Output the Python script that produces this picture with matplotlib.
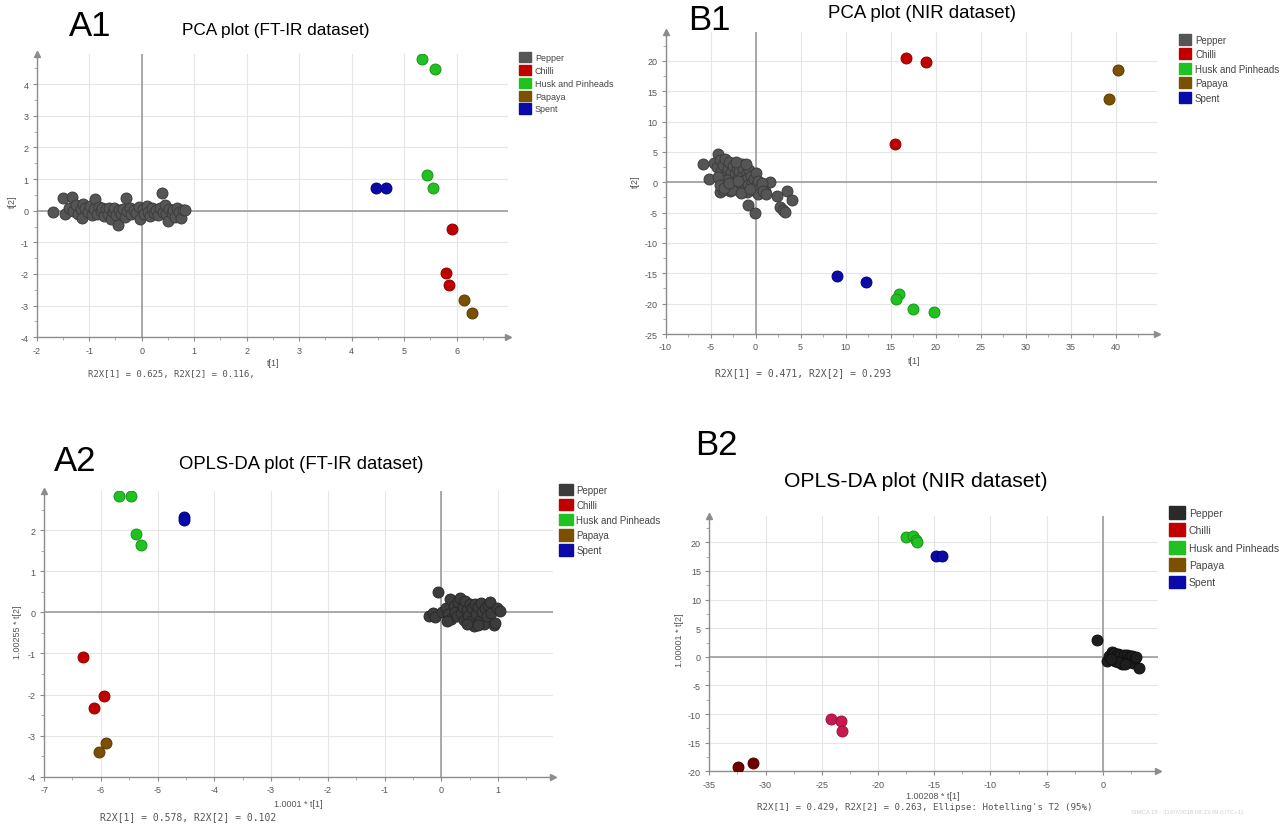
import matplotlib
matplotlib.use("Agg")
import matplotlib.pyplot as plt
from matplotlib.patches import Patch
from matplotlib.ticker import MultipleLocator, AutoMinorLocator

plt.rcParams["axes.unicode_minus"] = False

W, H = 1287, 829

groups = ["Pepper", "Chilli", "Husk and Pinheads", "Papaya", "Spent"]

# ---- A1 : PCA, FT-IR ----
a1_pepper_x = [-1.68, -1.49, -1.33, -1.46, -1.38, -1.30, -1.25, -1.22, -1.15, -1.11, -1.14, -1.08,
               -1.02, -0.98, -0.95, -0.89, -0.90, -0.85, -0.82, -0.78, -0.75, -0.72, -0.68, -0.65,
               -0.62, -0.58, -0.55, -0.52, -0.48, -0.46, -0.44, -0.40, -0.36, -0.32, -0.29, -0.27,
               -0.22, -0.20, -0.15, -0.10, -0.05, -0.03, 0.02, 0.05, 0.10, 0.12, 0.16, 0.20,
               0.24, 0.28, 0.32, 0.35, 0.38, 0.40, 0.44, 0.47, 0.51, 0.53, 0.57, 0.60,
               0.64, 0.68, 0.72, 0.75, 0.78, 0.82]
a1_pepper_y = [-0.04, 0.40, 0.42, -0.09, 0.08, -0.02, 0.18, -0.12, 0.05, 0.22, -0.23, 0.10,
               -0.05, 0.15, -0.15, 0.38, 0.05, -0.10, 0.12, -0.02, 0.08, -0.18, 0.05, -0.12,
               0.10, -0.25, -0.05, 0.08, -0.15, -0.46, 0.02, -0.10, 0.05, -0.20, 0.40, -0.02,
               0.10, -0.12, 0.02, -0.08, 0.12, -0.25, 0.05, -0.10, 0.15, -0.05, -0.18, 0.08,
               -0.08, 0.02, -0.15, 0.10, 0.57, -0.05, 0.18, -0.12, -0.34, 0.05, -0.08, 0.02,
               -0.20, 0.08, -0.05, -0.22, 0.02, 0.03]
a1_chilli_x = [5.92, 5.80, 5.86]
a1_chilli_y = [-0.58, -1.97, -2.35]
a1_husk_x = [5.34, 5.59, 5.44, 5.55]
a1_husk_y = [4.79, 4.47, 1.13, 0.71]
a1_papaya_x = [6.14, 6.29]
a1_papaya_y = [-2.81, -3.23]
a1_spent_x = [4.46, 4.65]
a1_spent_y = [0.73, 0.73]

# ---- B1 : PCA, NIR ----
b1_pepper_x = [-5.88, -5.14, -4.15, -0.82, -0.08, 1.59, 2.33, 3.44, 3.99, 2.69, 3.06, 3.25,
               1.03, -3.96, -2.85, -1.55, -4.6, -4.3, -4.0, -3.8, -3.6, -3.4, -3.3, -3.1,
               -3.0, -2.8, -2.7, -2.5, -2.4, -2.3, -2.1, -2.0, -1.9, -1.8, -1.7, -1.5,
               -1.4, -1.3, -1.2, -1.0, -0.9, -0.8, -0.7, -0.5, -0.4, -0.3, -0.2, 0.0,
               0.1, 0.3, 0.5, 0.7, -3.6, -3.2, -2.6, -4.2, -1.0, 0.3, -2.2, -1.1,
               -3.9, -3.5, -2.9, -2.0, -1.6, -0.6, 0.8, 1.2]
b1_pepper_y = [2.98, 0.51, 4.63, -3.77, -5.09, 0.07, -2.23, -1.41, -2.89, -4.15, -4.55, -4.87,
               -1.41, -1.58, -1.41, 2.98, 3.2, 2.5, 3.6, 1.8, 2.9, 3.9, 1.2, 2.2,
               3.3, 0.6, 1.7, 2.7, 0.0, 1.3, 2.2, -0.8, 0.7, 1.8, -0.3, 1.1,
               2.4, 0.2, -1.0, 1.5, 0.5, -0.5, 2.0, 1.0, -0.2, -1.3, 0.6, 1.6,
               -0.6, 0.2, -1.0, -0.1, -1.2, 0.3, -1.2, 0.9, -1.6, -1.9, 3.4, 3.0,
               -0.4, -0.9, -0.2, 0.2, -1.8, -1.1, -1.5, -1.9]
b1_chilli_x = [16.71, 18.86, 15.48]
b1_chilli_y = [20.44, 19.73, 6.28]
b1_husk_x = [15.89, 15.62, 17.49, 19.82]
b1_husk_y = [-18.47, -19.24, -20.94, -21.33]
b1_papaya_x = [40.23, 39.22]
b1_papaya_y = [18.52, 13.69]
b1_spent_x = [9.09, 12.28]
b1_spent_y = [-15.46, -16.50]

# ---- A2 : OPLS-DA, FT-IR ----
a2_pepper_x = [-0.05, -0.22, -0.15, -0.11, 0.02, 0.08, 0.12, 0.16, 0.18, 0.22, 0.25, 0.28,
               0.30, 0.33, 0.35, 0.38, 0.40, 0.42, 0.45, 0.48, 0.50, 0.52, 0.55, 0.57,
               0.60, 0.62, 0.65, 0.68, 0.70, 0.72, 0.75, 0.78, 0.80, 0.83, 0.86, 0.88,
               0.93, 0.95, 0.98, 1.04, 0.10, 0.45, 0.65]
a2_pepper_y = [0.50, -0.08, -0.02, -0.12, 0.02, 0.10, -0.05, 0.32, -0.17, 0.15, 0.02, -0.10,
               0.25, 0.34, -0.02, 0.12, -0.18, 0.28, 0.05, -0.08, 0.20, -0.22, 0.10, -0.33,
               0.20, -0.05, 0.12, -0.18, 0.22, 0.00, -0.28, 0.10, -0.10, 0.18, 0.24, -0.02,
               -0.31, -0.25, 0.10, 0.04, -0.20, -0.28, -0.30]
a2_chilli_x = [-6.32, -5.94, -6.12]
a2_chilli_y = [-1.08, -2.03, -2.32]
a2_husk_x = [-5.68, -5.47, -5.38, -5.30]
a2_husk_y = [2.84, 2.84, 1.90, 1.64]
a2_papaya_x = [-5.91, -6.03]
a2_papaya_y = [-3.18, -3.40]
a2_spent_x = [-4.54, -4.53]
a2_spent_y = [2.32, 2.24]

# ---- B2 : OPLS-DA, NIR ----
b2_pepper_x = [-0.55, 0.34, 0.55, 0.78, 0.9, 1.0, 1.08, 1.2, 1.37, 1.45, 1.55, 1.67, 1.75, 1.85,
               1.95, 2.11, 2.2, 2.26, 2.4, 2.5, 2.6, 2.7, 2.85, 2.95, 3.21, 1.3, 0.7, 2.0]
b2_pepper_y = [2.99, -0.68, 0.2, 0.79, -0.2, 0.6, -0.68, 0.1, 0.49, -0.5, 0.3, -1.26, -0.2, 0.4,
               -0.8, 0.31, -0.4, -0.96, 0.1, -0.6, 0.2, -1.0, -0.26, 0.05, -2.01, -0.9, -0.3, -1.2]
b2_group1_x = [-24.14, -23.33, -23.19]
b2_group1_y = [-10.86, -11.15, -13.01]
b2_group2_x = [-32.43, -31.07]
b2_group2_y = [-19.30, -18.54]
b2_husk_x = [-17.47, -16.88, -16.66, -16.51]
b2_husk_y = [20.87, 21.05, 20.47, 20.0]
b2_spent_x = [-14.82, -14.27]
b2_spent_y = [17.55, 17.55]

legend_colors = ["#555555", "#c00000", "#22c122", "#7b5000", "#0a0aa8"]
legend_colors_b2 = ["#2a2a2a", "#c00000", "#22c122", "#7b5000", "#0a0aa8"]

fig = plt.figure(figsize=(W / 100, H / 100), dpi=100)


def box(left, top, right, bottom):
    return [left / W, 1 - bottom / H, (right - left) / W, (bottom - top) / H]


def ftext(px, py, s, **kw):
    fig.text(px / W, 1 - py / H, s, **kw)


def style(ax, xlim, ylim, sx, sy):
    ax.set_xlim(*xlim)
    ax.set_ylim(*ylim)
    ax.xaxis.set_major_locator(MultipleLocator(sx))
    ax.yaxis.set_major_locator(MultipleLocator(sy))
    ax.xaxis.set_minor_locator(AutoMinorLocator(2))
    ax.yaxis.set_minor_locator(AutoMinorLocator(2))
    for s in ("top", "right"):
        ax.spines[s].set_visible(False)
    for s in ("left", "bottom"):
        ax.spines[s].set_color("#8c8c8c")
        ax.spines[s].set_linewidth(1.0)
    ax.tick_params(which="major", length=3, width=0.8, color="#8c8c8c", pad=3,
                   labelsize=6.5, labelcolor="#555555")
    ax.tick_params(which="minor", length=2, width=0.6, color="#a0a0a0")
    for lab in ax.get_xticklabels() + ax.get_yticklabels():
        lab.set_family("Liberation Sans")
    ax.grid(which="major", color="#e6e6e6", lw=0.8, zorder=0)
    ax.set_axisbelow(True)
    ax.axhline(0, color="#9c9c9c", lw=1.2, zorder=1)
    ax.axvline(0, color="#9c9c9c", lw=1.2, zorder=1)
    ax.plot(1, 0, ">", color="#8c8c8c", ms=5, transform=ax.transAxes, clip_on=False)
    ax.plot(0, 1, "^", color="#8c8c8c", ms=5, transform=ax.transAxes, clip_on=False)


def dots(ax, x, y, color, edge):
    ax.scatter(x, y, s=62, c=color, edgecolors=edge, linewidths=0.7, zorder=3)


def legend(ax, left, top, colors, fs, hh, ls):
    handles = [Patch(facecolor=c, edgecolor=c) for c in colors]
    leg = ax.legend(handles, groups, loc="upper left", bbox_to_anchor=(left / W, 1 - top / H),
                    bbox_transform=fig.transFigure, frameon=False,
                    handlelength=hh, handleheight=hh, handletextpad=0.4, labelspacing=ls,
                    borderpad=0, borderaxespad=0, prop={"family": "Liberation Sans", "size": fs})
    for t in leg.get_texts():
        t.set_color("#444444")


# A1
ax1 = fig.add_axes(box(36.7, 55, 508, 338.3))
style(ax1, (-2, 6.98), (-4, 4.95), 1, 1)
dots(ax1, a1_pepper_x, a1_pepper_y, "#555555", "#3c3c3c")
dots(ax1, a1_chilli_x, a1_chilli_y, "#c00000", "#8a0000")
dots(ax1, a1_husk_x, a1_husk_y, "#22c122", "#179417")
dots(ax1, a1_papaya_x, a1_papaya_y, "#7b5000", "#573800")
dots(ax1, a1_spent_x, a1_spent_y, "#0a0aa8", "#000075")
legend(ax1, 519, 53, legend_colors, 6.5, 1.35, 0.3)

# B1
ax2 = fig.add_axes(box(665.5, 33.3, 1156.5, 335))
style(ax2, (-10, 44.5), (-25, 24.7), 5, 5)
dots(ax2, b1_pepper_x, b1_pepper_y, "#555555", "#3c3c3c")
dots(ax2, b1_chilli_x, b1_chilli_y, "#c00000", "#8a0000")
dots(ax2, b1_husk_x, b1_husk_y, "#22c122", "#179417")
dots(ax2, b1_papaya_x, b1_papaya_y, "#7b5000", "#573800")
dots(ax2, b1_spent_x, b1_spent_y, "#0a0aa8", "#000075")
legend(ax2, 1178.5, 35, legend_colors, 7, 1.3, 0.4)

# A2
ax3 = fig.add_axes(box(44.1, 491.7, 553, 777.7))
style(ax3, (-7, 1.97), (-4, 2.96), 1, 1)
dots(ax3, a2_pepper_x, a2_pepper_y, "#3c3c3c", "#2a2a2a")
dots(ax3, a2_chilli_x, a2_chilli_y, "#c00000", "#8a0000")
dots(ax3, a2_husk_x, a2_husk_y, "#22c122", "#179417")
dots(ax3, a2_papaya_x, a2_papaya_y, "#7b5000", "#573800")
dots(ax3, a2_spent_x, a2_spent_y, "#0a0aa8", "#000075")
legend(ax3, 559, 485, ["#3c3c3c"] + legend_colors[1:], 7, 1.4, 0.4)

# B2
ax4 = fig.add_axes(box(709.3, 516.7, 1157.7, 772.3))
style(ax4, (-35, 4.87), (-20, 24.66), 5, 5)
dots(ax4, b2_pepper_x, b2_pepper_y, "#1e1e1e", "#101010")
dots(ax4, b2_group1_x, b2_group1_y, "#c8184f", "#9a0f3a")
dots(ax4, b2_group2_x, b2_group2_y, "#6e0000", "#4a0000")
dots(ax4, b2_husk_x, b2_husk_y, "#22c122", "#179417")
dots(ax4, b2_spent_x, b2_spent_y, "#0a0aa8", "#000075")
legend(ax4, 1169, 507, legend_colors_b2, 7.5, 1.5, 0.45)

# panel letters and titles
for px, py, s in [(90, 27, "A1"), (709, 20, "B1"), (75, 462, "A2"), (716, 446, "B2")]:
    ftext(px, py, s, fontsize=25, family="Liberation Sans", ha="center", va="center")
ftext(276, 31, "PCA plot (FT-IR dataset)", fontsize=12.4, family="Liberation Sans",
      ha="center", va="center")
ftext(922, 13, "PCA plot (NIR dataset)", fontsize=13.4, family="Liberation Sans",
      ha="center", va="center")
ftext(301, 465, "OPLS-DA plot (FT-IR dataset)", fontsize=13.3, family="Liberation Sans",
      ha="center", va="center")
ftext(916, 482, "OPLS-DA plot (NIR dataset)", fontsize=15.2, family="Liberation Sans",
      ha="center", va="center")

# axis labels
lab = dict(fontsize=6.5, family="Liberation Sans", color="#555555", ha="center", va="center")
ftext(273, 364, "t[1]", **lab)
ftext(12, 202, "t[2]", rotation=90, **lab)
ftext(914, 362, "t[1]", **lab)
ftext(635, 182, "t[2]", rotation=90, **lab)
ftext(298, 805, "1.0001 * t[1]", **lab)
ftext(18, 632, "1.00255 * t[2]", rotation=90, **lab)
ftext(933, 797, "1.00208 * t[1]", **lab)
ftext(679, 640, "1.00001 * t[2]", rotation=90, **lab)

mono = dict(family="DejaVu Sans Mono", color="#555555", va="center")
ftext(88, 375, "R2X[1] = 0.625, R2X[2] = 0.116,", fontsize=6.5, **mono)
ftext(715, 373, "R2X[1] = 0.471, R2X[2] = 0.293", fontsize=7, **mono)
ftext(100, 817, "R2X[1] = 0.578, R2X[2] = 0.102", fontsize=7, **mono)
ftext(757, 808, "R2X[1] = 0.429, R2X[2] = 0.263, Ellipse: Hotelling's T2 (95%)", fontsize=6.6, **mono)
ftext(1131, 813, "SIMCA 15 - 31/07/2018 08:23:09 (UTC+1)", fontsize=4.3, family="Liberation Sans",
      color="#cfcfcf", va="center")

fig.savefig("out.png", dpi=100)
